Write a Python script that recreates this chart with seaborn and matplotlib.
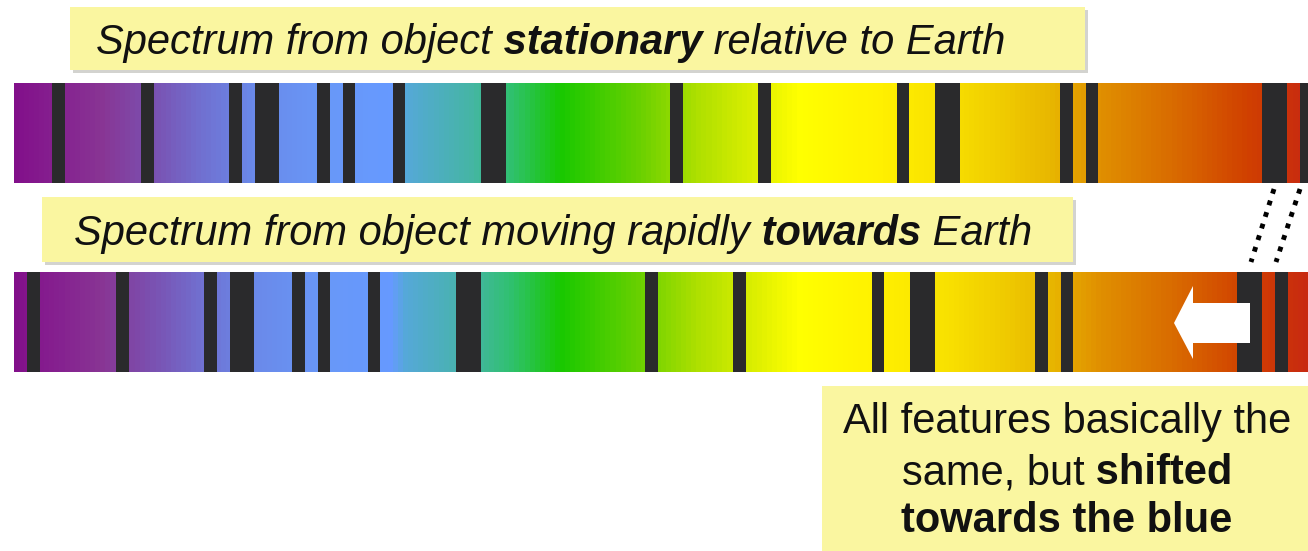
import numpy as np
import matplotlib
matplotlib.use("Agg")
import matplotlib.pyplot as plt
import seaborn as sns
from matplotlib.colors import LinearSegmentedColormap
from matplotlib.patches import Rectangle, Polygon

W, H = 1308, 551

# spectrum colour stops (pixel position along the bar, colour)
GRAD_POS = [14, 55, 100, 150, 200, 250, 330, 390, 405, 470, 510, 560,
            640, 700, 760, 800, 880, 950, 1050, 1100, 1180, 1250, 1308]
GRAD_COLORS = ["#82108a", "#85208f", "#883594", "#7a50b0", "#7070d0", "#6a88e8",
               "#6898f8", "#6699ff", "#55a8d8", "#45b5a5", "#30c070", "#18c800",
               "#6ad000", "#b0e000", "#e0f000", "#ffff00", "#fff000", "#f8e000",
               "#e8b800", "#e09000", "#d86800", "#d04000", "#c82a10"]

# absorption lines of the stationary spectrum (left / right edge, pixels)
LINE_START = [52, 141, 229, 255, 317, 343, 393, 481, 670, 758, 897, 935, 1060, 1086, 1262, 1300]
LINE_END = [65, 154, 242, 279, 330, 355, 405, 506, 683, 771, 909, 960, 1073, 1098, 1287, 1313]
BLUESHIFT = 25

TOP_LABEL = [("Spectrum from object", "normal"), (" stationary", "bold"),
             (" relative to Earth", "normal")]
MID_LABEL = [("Spectrum from object moving rapidly", "normal"), (" towards", "bold"),
             (" Earth", "normal")]
NOTE_LINES = [[("All features basically the", "normal")],
              [("same, but", "normal"), (" shifted", "bold")],
              [("towards the blue", "bold")]]

BAR_X0, BAR_X1 = 14, 1308
TOP_BAR = (83, 183)
BOTTOM_BAR = (272, 372)
LINE_COLOR = "#2a2a2c"
BOX_COLOR = "#faf6a0"
FONT_SIZE = 30

sns.set_theme(style="white")
plt.rcParams["font.family"] = ["Liberation Sans", "DejaVu Sans"]

fig = plt.figure(figsize=(W / 100, H / 100), dpi=100)
fig.patch.set_facecolor("white")

cmap = LinearSegmentedColormap.from_list(
    "spectrum",
    list(zip([(p - BAR_X0) / (BAR_X1 - BAR_X0) for p in GRAD_POS], GRAD_COLORS)))
grad = (np.arange(BAR_X0, BAR_X1) + 0.5)[None, :]


def draw_spectrum(y0, y1, shift):
    bax = fig.add_axes([BAR_X0 / W, 1 - y1 / H, (BAR_X1 - BAR_X0) / W, (y1 - y0) / H])
    sns.heatmap(grad, cmap=cmap, vmin=BAR_X0, vmax=BAR_X1, cbar=False, ax=bax,
                xticklabels=False, yticklabels=False, rasterized=True)
    for lo, hi in zip(LINE_START, LINE_END):
        bax.axvspan(lo - shift - BAR_X0, hi - shift - BAR_X0, color=LINE_COLOR, lw=0)
    bax.set_xlim(0, BAR_X1 - BAR_X0)
    return bax


draw_spectrum(*TOP_BAR, 0)
draw_spectrum(*BOTTOM_BAR, BLUESHIFT)

# overlay in pixel coordinates
ax = fig.add_axes([0, 0, 1, 1], zorder=5)
ax.set_xlim(0, W)
ax.set_ylim(H, 0)
ax.axis("off")


def note_box(x0, y0, x1, y1):
    ax.add_patch(Rectangle((x0 + 3, y0 + 3), x1 - x0, y1 - y0, color="#a8a8a0", alpha=0.5, lw=0))
    ax.add_patch(Rectangle((x0, y0), x1 - x0, y1 - y0, color=BOX_COLOR, lw=0))


def rich_text(x, y, pieces, **kw):
    texts = [ax.text(x, y, pieces[0][0], weight=pieces[0][1], ha="left",
                     va="baseline", fontsize=FONT_SIZE, **kw)]
    for s, w in pieces[1:]:
        texts.append(ax.annotate(s, xy=(1, 0), xycoords=texts[-1], ha="left", va="bottom",
                                 weight=w, fontsize=FONT_SIZE, **kw))
    return texts


note_box(70, 7, 1085, 70)
note_box(42, 197, 1073, 262)
note_box(822, 386, 1308, 560)

groups = []
groups.append((rich_text(0, 54, TOP_LABEL, style="italic", color="#111111"), 551))
groups.append((rich_text(0, 245, MID_LABEL, style="italic", color="#111111"), 553))
for line, base in zip(NOTE_LINES, [433, 484, 532]):
    groups.append((rich_text(0, base, line, color="#111111"), 1067))

# dotted guides between the last two lines of each spectrum
for xt, xb in [(1274, 1251), (1300, 1276)]:
    ax.plot([xt, xb], [189, 262], color="black", lw=3.5, ls=(0, (1, 1.5)))

# white arrow pointing to the blue end
arrow = Polygon([(1174, 323), (1193, 286), (1193, 303), (1250, 303),
                 (1250, 343), (1193, 343), (1193, 359)],
                closed=True, facecolor="white", edgecolor="none")
ax.add_patch(arrow)

# centre the multi-style labels
fig.canvas.draw()
r = fig.canvas.get_renderer()
for texts, cx in groups:
    x0 = texts[0].get_window_extent(r).x0
    x1 = texts[-1].get_window_extent(r).x1
    px, py = texts[0].get_position()
    texts[0].set_x(px + cx - (x0 + x1) / 2)

fig.savefig("out.png", dpi=100)
